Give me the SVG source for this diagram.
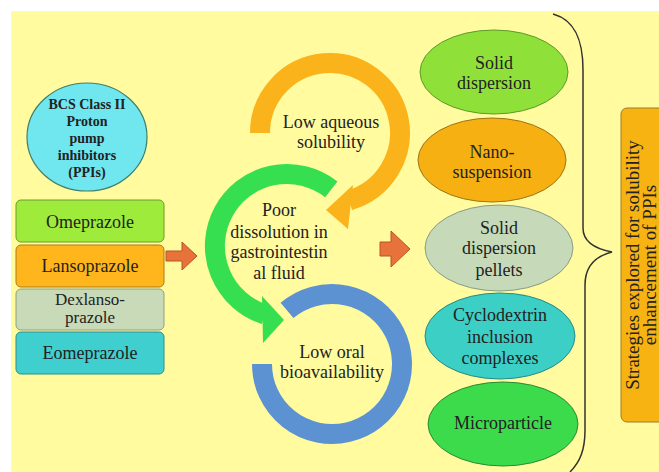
<svg xmlns="http://www.w3.org/2000/svg" width="659" height="472" viewBox="0 0 659 472" font-family="'Liberation Serif','Times New Roman','DejaVu Serif',serif">
<defs>
<style>
text{font-family:'Liberation Serif','Times New Roman','DejaVu Serif',serif;fill:#222;text-anchor:middle;font-size:18px}
.b{font-weight:bold;font-size:14px}
.box{stroke-width:1}
.blk{fill:#E8733A;stroke:#B5552A;stroke-width:1}
.ring{fill:none;stroke-width:20;stroke-linecap:butt}
.rot{font-size:19px}
</style>
</defs>
<rect x="0" y="0" width="659" height="472" fill="#ffffff"/>
<rect x="11" y="11" width="648" height="461" fill="#FFFB9E"/>

<g id="ppi">
<ellipse cx="87" cy="137" rx="60" ry="54" fill="#70E6EE" stroke="#3E7F6A" stroke-width="1.2"/>
<text class="b" x="87" y="109">BCS Class II</text>
<text class="b" x="87" y="126">Proton</text>
<text class="b" x="87" y="143">pump</text>
<text class="b" x="87" y="160">inhibitors</text>
<text class="b" x="87" y="177">(PPIs)</text>
</g>

<g id="omeprazole">
<rect class="box" x="16" y="200" width="148" height="42" rx="5" fill="#9EEB3C" stroke="#6A9E2A"/>
<text x="90" y="228">Omeprazole</text>
</g>
<g id="lansoprazole">
<rect class="box" x="16" y="245" width="148" height="42" rx="5" fill="#FFB61C" stroke="#B07A12"/>
<text x="90" y="272">Lansoprazole</text>
</g>
<g id="dexlansoprazole">
<rect class="box" x="16" y="289" width="148" height="41" rx="5" fill="#C9DAB9" stroke="#8FA083"/>
<text x="90" y="305" style="font-size:17px">Dexlanso-</text>
<text x="90" y="323" style="font-size:17px">prazole</text>
</g>
<g id="eomeprazole">
<rect class="box" x="16" y="332" width="148" height="42" rx="5" fill="#40CFCF" stroke="#2A8F8F"/>
<text x="90" y="359">Eomeprazole</text>
</g>

<g id="connectors">
<path class="blk" d="M166,251 L182,251 L182,242 L197,256 L182,270 L182,261 L166,261 Z"/>
<path class="blk" d="M380,242 L391,242 L391,231 L410,249 L391,267 L391,256 L380,256 Z"/>
<path class="ring" stroke="#FBB31B" d="M260,133 A70,70 0 1 1 349.3,200.3"/>
<polygon fill="#FBB31B" points="353,185 348,229 326,210"/>
<path class="ring" stroke="#35DF4F" stroke-width="21" d="M331.3,189.3 A72,72 0 1 0 264.8,314.5"/>
<polygon fill="#35DF4F" points="262,296 263,343 284,320"/>
<path class="ring" stroke="#5D92D2" d="M262,364 A70,70 0 1 0 287,310.4"/>
<path d="M553,14 C575,20 583,40 583,70 L583,228 C583,242 596,249 612,252 C596,256 585,265 585,285 L585,430 C585,450 580,462 570,472" fill="none" stroke="#333" stroke-width="1.5"/>
</g>

<g id="low-aqueous">
<text x="331" y="128">Low aqueous</text>
<text x="331" y="148">solubility</text>
</g>
<g id="poor-dissolution">
<text x="279" y="216">Poor</text>
<text x="279" y="238">dissolution in</text>
<text x="279" y="258">gastrointestin</text>
<text x="279" y="279">al fluid</text>
</g>
<g id="low-oral">
<text x="332" y="358">Low oral</text>
<text x="332" y="378">bioavailability</text>
</g>

<g id="solid-dispersion">
<ellipse cx="494" cy="72" rx="74" ry="42" fill="#8FE13A" stroke="#5E9A28"/>
<text x="494" y="69">Solid</text>
<text x="494" y="89">dispersion</text>
</g>
<g id="nano-suspension">
<ellipse cx="492" cy="160" rx="74" ry="42" fill="#F7B012" stroke="#9E7418"/>
<text x="492" y="158">Nano-</text>
<text x="492" y="178">suspension</text>
</g>
<g id="pellets">
<ellipse cx="499" cy="248" rx="74" ry="43" fill="#C6D9B9" stroke="#8A9C82"/>
<text x="499" y="234">Solid</text>
<text x="499" y="254">dispersion</text>
<text x="499" y="276">pellets</text>
</g>
<g id="cyclodextrin">
<ellipse cx="500" cy="336" rx="75" ry="43" fill="#3CCFC6" stroke="#2A8A84"/>
<text x="500" y="321">Cyclodextrin</text>
<text x="500" y="343">inclusion</text>
<text x="500" y="364">complexes</text>
</g>
<g id="microparticle">
<ellipse cx="503" cy="424" rx="75" ry="42" fill="#3BDB4C" stroke="#2A8A34"/>
<text x="503" y="429">Microparticle</text>
</g>

<g id="strategies">
<rect x="621" y="108" width="60" height="314" rx="6" fill="#F7B312" stroke="#9C7A2A"/>
<text class="rot" transform="translate(639,265) rotate(-90)">Strategies explored for solubility</text>
<text class="rot" transform="translate(656,265) rotate(-90)">enhancement of PPIs</text>
</g>
</svg>
